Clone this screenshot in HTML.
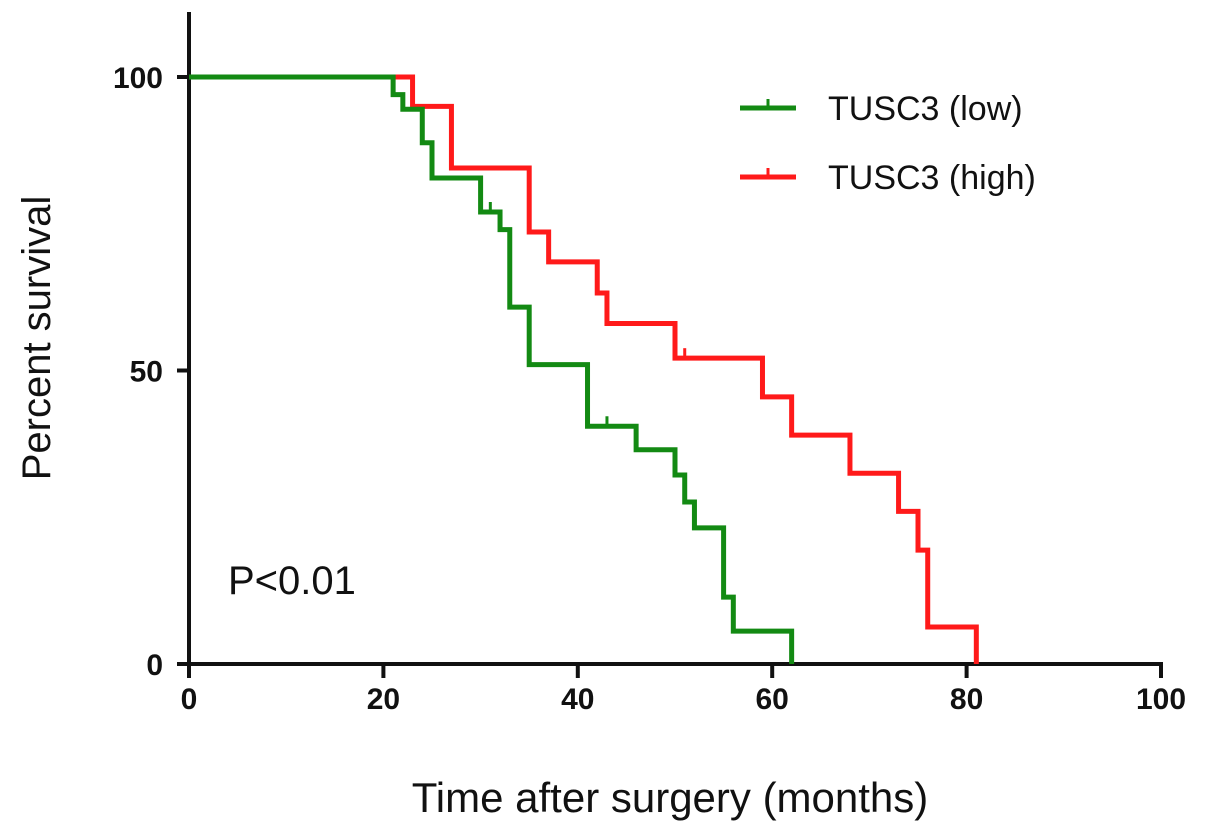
<!DOCTYPE html>
<html><head><meta charset="utf-8"><style>
body{margin:0;background:#fff}
svg text{font-family:"Liberation Sans",sans-serif}
</style></head><body>
<svg id="chart" width="1205" height="834">
<g id="axes"></g><g id="series"></g>
<g>
 <line x1="740" y1="108" x2="796" y2="108" stroke="#138a13" stroke-width="5"/>
 <line x1="768" y1="108" x2="768" y2="99" stroke="#138a13" stroke-width="3"/>
 <text x="828" y="120" font-size="34" fill="#111">TUSC3 (low)</text>
 <line x1="740" y1="177" x2="796" y2="177" stroke="#ff1a1a" stroke-width="5"/>
 <line x1="768" y1="177" x2="768" y2="168" stroke="#ff1a1a" stroke-width="3"/>
 <text x="828" y="189" font-size="34" fill="#111">TUSC3 (high)</text>
</g>
<text x="228" y="594" font-size="40" fill="#111">P&lt;0.01</text>
<text x="670" y="812" font-size="42" text-anchor="middle" fill="#111">Time after surgery (months)</text>
<text transform="translate(50,338) rotate(-90)" font-size="40" text-anchor="middle" fill="#111">Percent survival</text>
</svg>
<script>
const xTicks=[0,20,40,60,80,100];
const yTicks=[0,50,100];
const lowTimes=[0,21,22,24,25,30,32,33,35,41,46,50,51,52,55,56,62];
const lowSurv=[100,97,94.5,88.8,82.8,77,74,60.8,51,40.5,36.5,32.2,27.6,23.2,11.4,5.6,0];
const lowCensor=[31,43];
const highTimes=[0,23,27,35,37,42,43,50,59,62,68,73,75,76,81];
const highSurv=[100,95,84.5,73.6,68.5,63.2,58,52.1,45.5,39,32.5,26,19.4,6.3,0];
const highCensor=[51];
const X=v=>189+v*9.72, Y=v=>664-v*5.87;
const NS="http://www.w3.org/2000/svg";
function mk(t,a,p){const e=document.createElementNS(NS,t);for(const k in a)e.setAttribute(k,a[k]);p.appendChild(e);return e;}
const ax=document.getElementById('axes');
let e=mk('line',{x1:189,y1:12,x2:189,y2:666,stroke:'#111','stroke-width':4},ax);


e=mk('line',{x1:187,y1:664,x2:1163,y2:664,stroke:'#111','stroke-width':4},ax);


xTicks.forEach(t=>{
 mk('line',{x1:X(t),y1:664,x2:X(t),y2:678,stroke:'#111','stroke-width':4},ax);
 const tx=mk('text',{x:X(t),y:709,'font-size':30,'font-weight':'bold','text-anchor':'middle',fill:'#111'},ax);
 tx.textContent=t;
 
 
});
yTicks.forEach(t=>{
 mk('line',{x1:177,y1:Y(t),x2:189,y2:Y(t),stroke:'#111','stroke-width':4},ax);
 const tx=mk('text',{x:163,y:Y(t)+11,'font-size':30,'font-weight':'bold','text-anchor':'end',fill:'#111'},ax);
 tx.textContent=t;
 
 
});
const sg=document.getElementById('series');
function step(times,surv,cens,col,name){
 let d='M'+X(times[0])+','+Y(surv[0]);
 for(let i=1;i<times.length;i++){d+=' H'+X(times[i])+' V'+Y(surv[i]);}
 const p=mk('path',{d:d,fill:'none',stroke:col,'stroke-width':5,'stroke-linejoin':'miter'},sg);
 
 
 cens.forEach(c=>{let s=surv[0];for(let i=0;i<times.length;i++)if(times[i]<=c)s=surv[i];
  const l=mk('line',{x1:X(c),y1:Y(s),x2:X(c),y2:Y(s)-10,stroke:col,'stroke-width':3},sg);
  
  });
}
step(highTimes,highSurv,highCensor,'#ff1a1a','high-curve');
step(lowTimes,lowSurv,lowCensor,'#138a13','low-curve');
</script>
</body></html>
